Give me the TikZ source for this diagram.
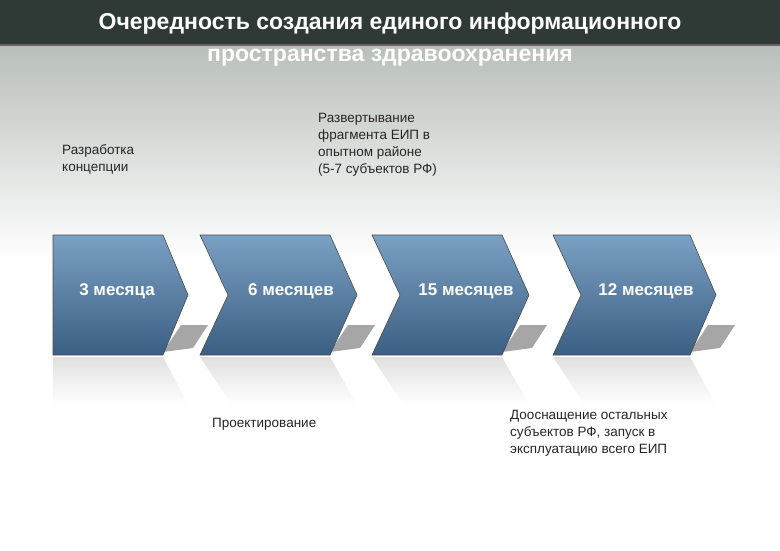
\documentclass[tikz,border=0pt]{standalone}
\usepackage{fontspec}
\setmainfont{Liberation Sans}
\definecolor{bar}{HTML}{2F3A36}
\definecolor{bgtop}{HTML}{A9B1AB}
\definecolor{chtop}{HTML}{7AA0C4}
\definecolor{chbot}{HTML}{3B5F82}
\tikzset{
  chev/.style={top color=chtop,bottom color=chbot,draw=black!70,line width=0.6pt},
  refl/.style={top color=black!12,bottom color=white,draw=none},
  shad/.style={fill=black!35,draw=none},
  clab/.style={text=white,font=\fontsize{17}{20}\selectfont\bfseries},
  desc/.style={font=\fontsize{13.5}{17}\selectfont,align=left,anchor=north west,inner sep=0pt,text=black!85},
  ttl/.style={text=white,font=\fontsize{23}{27}\selectfont\bfseries,inner sep=1pt}
}
\begin{document}
\begin{tikzpicture}[x=1pt,y=-1pt]
\useasboundingbox (0,0) rectangle (780,550);
\shade[top color=bgtop,bottom color=white] (0,0) rectangle (780,260);
\fill[white] (0,260) rectangle (780,550);
\fill[bar] (0,0) rectangle (780,45);
\draw[black!60,line width=1.5pt] (0,45)--(780,45);
\node[ttl] (t1) at (390,24) {Очередность создания единого информационного};
\node[ttl] (t2) at (390,58) {пространства здравоохранения};
% shadows
\foreach \x/\r in {53/163,200/330,372/502,553/690}{
  \fill[shad] (\r,352) -- (\r+18,325) -- (\r+45,325) -- (\r+30,348) -- cycle;
}
% reflections
\shade[refl] (53,357) -- (163,357) -- (188,405) -- (53,405) -- cycle;
\shade[refl] (200,357) -- (330,357) -- (357,405) -- (232,405) -- cycle;
\shade[refl] (372,357) -- (502,357) -- (529,405) -- (404,405) -- cycle;
\shade[refl] (553,357) -- (690,357) -- (716,405) -- (585,405) -- cycle;
% chevrons
\path[chev] (53,235) -- (163,235) -- (188,295) -- (163,355) -- (53,355) -- cycle;
\path[chev] (200,235) -- (330,235) -- (357,295) -- (330,355) -- (200,355) -- (228,295) -- cycle;
\path[chev] (372,235) -- (502,235) -- (529,295) -- (502,355) -- (372,355) -- (400,295) -- cycle;
\path[chev] (553,235) -- (690,235) -- (716,295) -- (690,355) -- (553,355) -- (581,295) -- cycle;
\node[clab] (c1) at (117,291) {3 месяца};
\node[clab] (c2) at (291,291) {6 месяцев};
\node[clab] (c3) at (466,291) {15 месяцев};
\node[clab] (c4) at (646,291) {12 месяцев};
\node[desc] (d1) at (62,144) {Разработка\\концепции};
\node[desc] (d2) at (318,113) {Развертывание\\фрагмента ЕИП в\\опытном районе\\(5-7 субъектов РФ)};
\node[desc] (d3) at (212,418) {Проектирование};
\node[desc] (d4) at (510,410) {Дооснащение остальных\\субъектов РФ, запуск в\\эксплуатацию всего ЕИП};
\end{tikzpicture}
\end{document}
